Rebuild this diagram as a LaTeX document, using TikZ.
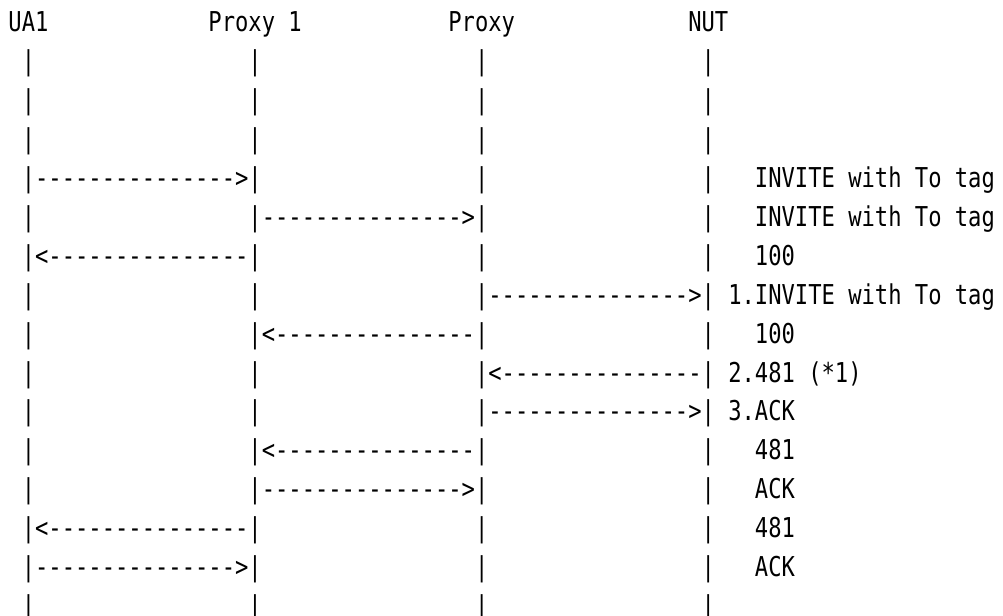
\documentclass[tikz,border=0pt]{standalone}
\usepackage{fontspec}
\setmonofont[FakeStretch=0.81]{DejaVu Sans Mono}

\begin{document}
\begin{tikzpicture}[x=0.75pt, y=-0.75pt,
  txt/.style={inner sep=0pt, outer sep=0pt, anchor=base west,
    font=\ttfamily\fontsize{20.5}{24}\selectfont}]
  \useasboundingbox (0,0) rectangle (1003,616);
  % grid: column c at x = 8.5+13.33c, row r at y = 32+38.9r
  % Header
  \foreach \name/\c/\s in {ua/0/UA1, pone/15/Proxy 1, proxy/33/Proxy, nut/51/NUT}
    \node[txt] (\name) at ({8.5+13.33*\c}, 32) {\s};
  % Lifelines
  \foreach \c [count=\i] in {1,18,35,52}
    \foreach \r in {1,...,15}
      \node[txt] (bar\i-\r) at ({8.5+13.33*\c}, {32+38.9*\r}) {|};
  % Messages
  \foreach \r/\c/\s in {4/2/--------------->, 5/19/--------------->,
      6/2/<---------------, 7/36/--------------->, 8/19/<---------------,
      9/36/<---------------, 10/36/--------------->, 11/19/<---------------,
      12/19/--------------->, 13/2/<---------------, 14/2/--------------->}
    \node[txt] (msg\r) at ({8.5+13.33*\c}, {32+38.9*\r}) {\s};
  % Labels
  \foreach \r/\c/\s in {4/56/INVITE with To tag, 5/56/INVITE with To tag,
      6/56/100, 7/54/1.INVITE with To tag, 8/56/100, 9/54/2.481 (*1),
      10/54/3.ACK, 11/56/481, 12/56/ACK, 13/56/481, 14/56/ACK}
    \node[txt] (lab\r) at ({8.5+13.33*\c}, {32+38.9*\r}) {\s};
\end{tikzpicture}
\end{document}
